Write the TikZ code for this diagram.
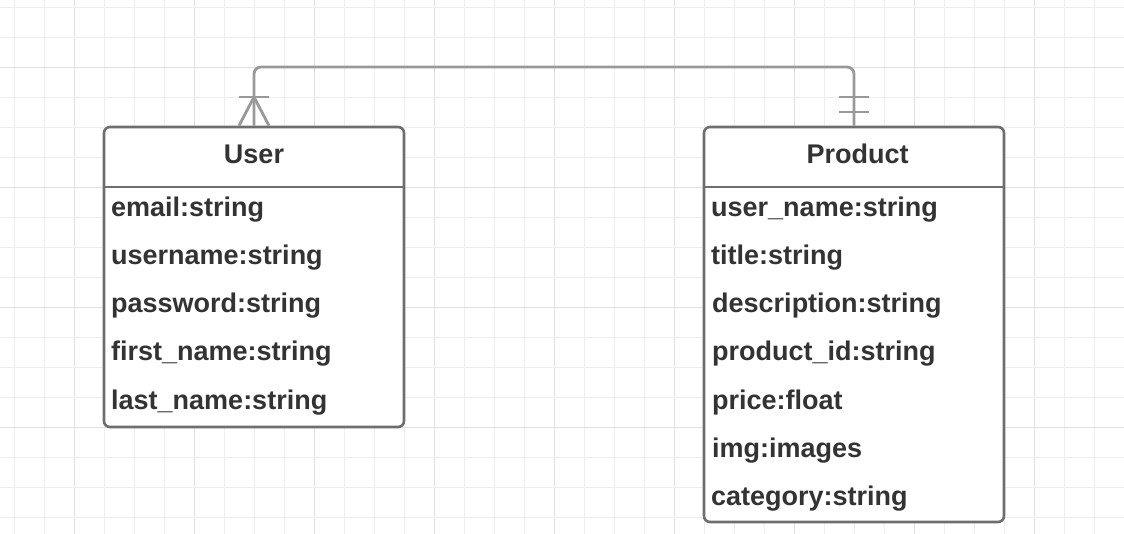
\documentclass[tikz,border=0pt]{standalone}
\usepackage{fontspec}
\setmainfont{Liberation Sans}
\definecolor{gridminor}{HTML}{EEEEEE}
\definecolor{gridmajor}{HTML}{E0E0E0}
\definecolor{boxline}{HTML}{6E6E6E}
\definecolor{connline}{HTML}{999999}
\definecolor{txt}{HTML}{333333}
\tikzset{
  entity/.style={draw=boxline, line width=2.6pt, rounded corners=6pt, fill=white, inner sep=0pt, minimum width=300pt},
  divider/.style={draw=boxline, line width=2.6pt},
  conn/.style={draw=connline, line width=2.8pt},
  field/.style={inner sep=0pt, anchor=base west, text=txt, font=\fontsize{27}{32}\selectfont\bfseries},
  title/.style={inner sep=0pt, anchor=base, text=txt, font=\fontsize{27}{32}\selectfont\bfseries},
}
\begin{document}
\begin{tikzpicture}[x=1pt,y=-1pt]
\useasboundingbox (0,0) rectangle (1124,534);
\fill[white] (0,0) rectangle (1124,534);
% grid
\foreach \i in {0,...,37} {
  \pgfmathtruncatemacro{\m}{mod(\i+2,4)}
  \ifnum\m=0 \draw[gridmajor, line width=1pt] (14.3+30*\i,0) -- (14.3+30*\i,534);
  \else \draw[gridminor, line width=1pt] (14.3+30*\i,0) -- (14.3+30*\i,534); \fi
}
\foreach \j in {0,...,17} {
  \pgfmathtruncatemacro{\m}{mod(\j+2,4)}
  \ifnum\m=0 \draw[gridmajor, line width=1pt] (0,7.3+30*\j) -- (1124,7.3+30*\j);
  \else \draw[gridminor, line width=1pt] (0,7.3+30*\j) -- (1124,7.3+30*\j); \fi
}
% entities
\node[entity, minimum height=300pt] (user) at (254,277) {};
\node[entity, minimum height=395pt] (product) at (854,324.5) {};
\draw[divider] (user.west |- 0,187) -- (user.east |- 0,187);
\draw[divider] (product.west |- 0,187) -- (product.east |- 0,187);
% titles
\node[title] (usertitle) at (254,163.5) {User};
\node[title] (producttitle) at (857.5,163.5) {Product};
% user fields
\node[field] (u1) at (111,217) {email:string};
\node[field] (u2) at (111,265) {username:string};
\node[field] (u3) at (111,313) {password:string};
\node[field] (u4) at (111,361) {first\_name:string};
\node[field] (u5) at (111,409) {last\_name:string};
% product fields
\node[field] (p1) at (711,217) {user\_name:string};
\node[field] (p2) at (711,265) {title:string};
\node[field] (p3) at (712,313) {description:string};
\node[field] (p4) at (712,361) {product\_id:string};
\node[field] (p5) at (712,409) {price:float};
\node[field] (p6) at (712,457) {img:images};
\node[field] (p7) at (711,505) {category:string};
% connector
\coordinate (bend) at (854,67);
\draw[conn, rounded corners=7pt] (user.north) |- (bend) -- (product.north);
% crow's foot (many) at user
\coordinate (uf) at (254,97);
\draw[conn] ([xshift=-15pt]uf) -- ([xshift=15pt]uf);
\draw[conn] (uf) -- ([xshift=-15pt]user.north);
\draw[conn] (uf) -- ([xshift=15pt]user.north);
% one-and-only-one at product
\coordinate (pf1) at (854,97);
\coordinate (pf2) at (854,112);
\draw[conn] ([xshift=-15pt]pf1) -- ([xshift=15pt]pf1);
\draw[conn] ([xshift=-15pt]pf2) -- ([xshift=15pt]pf2);
\end{tikzpicture}
\end{document}
